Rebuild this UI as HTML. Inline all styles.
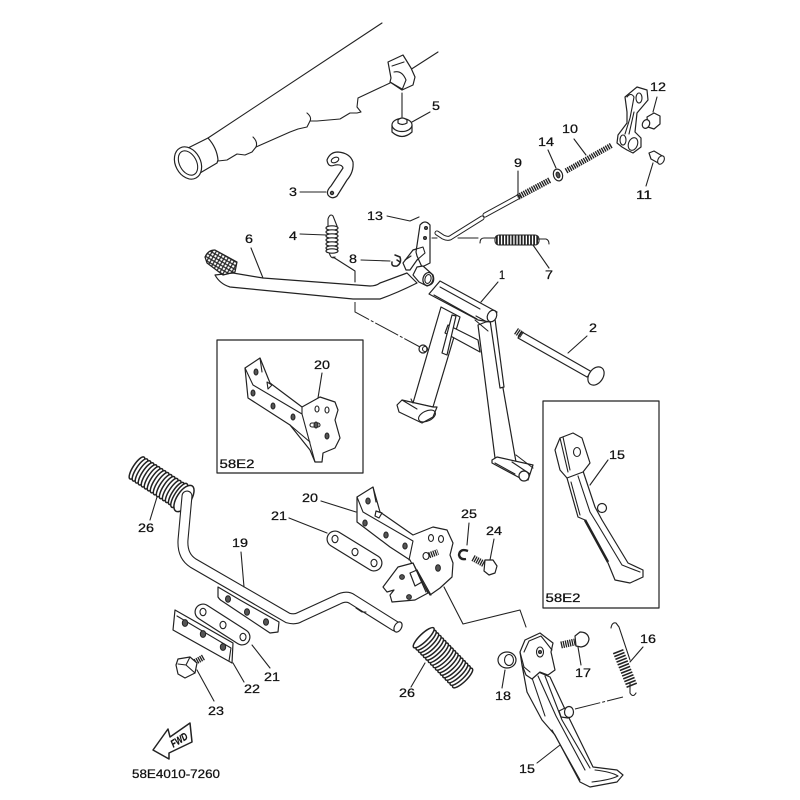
<!DOCTYPE html>
<html><head><meta charset="utf-8"><style>
html,body{margin:0;padding:0;background:#fff}
svg{display:block;filter:blur(.3px)}
.s{fill:#fff;stroke:#222;stroke-width:1.2;stroke-linejoin:round;stroke-linecap:round}
.n{fill:none;stroke:#222;stroke-width:1.1;stroke-linejoin:round;stroke-linecap:round}
.d{fill:none;stroke:#222;stroke-width:1;stroke-dasharray:26 2 3 2}
.h{fill:#555;stroke:#222;stroke-width:1}
.o{fill:#fff;stroke:#222;stroke-width:1.1}
.r{fill:#fff;stroke:#222;stroke-width:1.5}
text{font-family:"Liberation Sans",sans-serif;font-size:11.5px;fill:#111;text-anchor:middle;stroke:#111;stroke-width:.25}
</style></head><body>
<svg xmlns="http://www.w3.org/2000/svg" width="800" height="800" viewBox="0 0 800 800">
<defs><pattern id="cross" width="3.4" height="3.4" patternUnits="userSpaceOnUse" patternTransform="rotate(30)"><rect width="3.4" height="3.4" fill="#222"/><rect x=".8" y=".8" width="2.2" height="2.2" fill="#fff"/></pattern></defs>

<!-- muffler -->
<path class="n" d="M208 138L382 23"/>
<path class="s" d="M188 148L208 138Q217 148 218 160L217 163L200 173Z"/>
<ellipse class="s" cx="188" cy="163" rx="12.5" ry="17" transform="rotate(-28 188 163)"/>
<ellipse class="n" cx="188" cy="163" rx="8.5" ry="13" transform="rotate(-28 188 163)"/>
<path class="n" d="M218 161L227 160L237 154L245 155L252 152L256 147L290 132L298 129L307 127L310 121L317 121L340 119L350 113L357 113L361 112L357 107L358 98L390 83"/>
<path class="n" d="M253 137Q258 142 256 147M307 113Q312 117 310 121"/>
<path class="n" d="M410 70L438 52"/>
<path class="s" d="M388 62L403 55L411 68L415 77L413 85L402 90L390 82L391 78Z"/>
<path class="n" d="M392 66L404 62M394 72Q402 70 406 80L402 90M390 82L402 89"/>
<path class="n" d="M402 93V117"/>
<path class="s" d="M392 125V132Q402 141 412 132V125Z"/>
<ellipse class="s" cx="402" cy="125" rx="10" ry="6.5"/>
<path class="s" d="M398 123V120Q402 116 407 120V123Q402 126 398 123Z"/>
<path class="n" d="M412 122L430 112"/>

<!-- bracket 3 -->
<path class="s" d="M327 160Q330 152 338 152Q350 153 353 162Q354 172 347 180L337 196Q332 200 328 195Q326 191 331 186L343 168Q342 164 335 165Q328 168 327 160Z"/>
<ellipse class="n" cx="335" cy="160" rx="4" ry="2.5" transform="rotate(-25 335 160)"/>
<circle class="h" cx="332" cy="193" r="1.7"/>
<path class="n" d="M300 192H326"/>

<!-- rod 9,10 etc -->
<path d="M437 233L443 237Q447 239 450 238L482 218M485 215L518 197" fill="none" stroke="#222" stroke-width="5" stroke-linecap="round"/>
<path d="M437 233L443 237Q447 239 450 238L482 218M485 215L518 197" fill="none" stroke="#fff" stroke-width="3" stroke-linecap="round"/>
<line x1="518" y1="197" x2="550" y2="180" stroke="#222" stroke-width="6" stroke-dasharray="1.4 .9"/>
<line x1="566" y1="171" x2="612" y2="145" stroke="#222" stroke-width="5.5" stroke-dasharray="1.4 .9"/>
<ellipse class="s" cx="558" cy="175" rx="4.5" ry="6" transform="rotate(-20 558 175)"/>
<ellipse class="h" cx="558" cy="175" rx="1.8" ry="3" transform="rotate(-20 558 175)"/>
<path class="n" d="M548 150L556 168M574 139L586 155M518 171V197"/>

<!-- arm -->
<path class="s" d="M625 97L637 87L647 90L648 100L637 113L635 132L641 138L641 147L633 153L627 150L622 147L617 143L618 135L627 123L627 112Z"/>
<path class="n" d="M627 97Q631 92 634 97L632 108L630 118L625 134M634 112L629 134"/>
<ellipse class="n" cx="639" cy="98" rx="3" ry="5"/>
<ellipse class="n" cx="623" cy="140" rx="3" ry="5"/>
<ellipse class="o" cx="633" cy="144" rx="4.5" ry="6.5" transform="rotate(20 633 144)"/>
<path class="s" d="M647 117L654 113L660 116L660 124L654 129L648 127Z"/>
<ellipse class="s" cx="646" cy="124" rx="3.5" ry="4.5" transform="rotate(25 646 124)"/>
<path class="n" d="M657 97L653 112"/>
<path class="s" d="M649 153L654 151L664 157L660 164L651 159Z"/>
<ellipse class="o" cx="661" cy="160" rx="3" ry="4.5" transform="rotate(28 661 160)"/>
<path class="n" d="M653 163L646 186"/>

<!-- spring 7 -->
<path class="n" d="M432 238H437M458 238H478M480 243Q480 238 484 238H495M538 239H546Q549 240 549 244"/>
<rect class="n" x="495" y="235" width="44" height="10" rx="4"/>
<line x1="496" y1="240" x2="538" y2="240" stroke="#222" stroke-width="9" stroke-dasharray="1.8 1.3"/>
<path class="n" d="M533 245L549 268"/>

<!-- spring 4 -->
<path class="n" d="M328 227V219Q330 213 333 216L337 226M329 252Q331 260 335 257"/>
<g class="o" style="fill:#fff;stroke:#222;stroke-width:1.2">
<ellipse cx="332" cy="228" rx="6" ry="2.2"/><ellipse cx="332" cy="232" rx="6" ry="2.2"/><ellipse cx="332" cy="236" rx="6" ry="2.2"/><ellipse cx="332" cy="240" rx="6" ry="2.2"/><ellipse cx="332" cy="244" rx="6" ry="2.2"/><ellipse cx="332" cy="248" rx="6" ry="2.2"/><ellipse cx="332" cy="251" rx="6" ry="2.2"/>
</g>
<path class="n" d="M300 234L326 235M333 257L355 271V282"/>

<!-- lever 6 -->
<path class="s" d="M233 273L263 278L370 286Q376 286 380 283L407 273L417 283Q397 293 380 299H353L230 287Q220 284 215 275Z"/>
<path class="s" d="M205 257Q208 250 215 250L237 262L235 272L223 275L207 263Z" style="fill:url(#cross)"/>
<path class="s" d="M403 263L413 250L423 247L425 253L417 260L410 270L406 270Z"/>
<path class="s" d="M420 225Q425 219 430 225V263L422 267L417 256L416 252Z"/>
<circle class="h" cx="426" cy="228" r="1.5"/>
<circle class="h" cx="425" cy="238" r="1.5"/>
<path class="n" d="M413 250L423 247L425 253L417 260M405 260L411 256"/>
<path class="s" d="M417 267L423 266L433 275Q436 284 427 286L419 282L413 275Z"/>
<ellipse class="s" cx="428" cy="279" rx="5" ry="6.5" transform="rotate(15 428 279)"/>
<ellipse class="n" cx="428" cy="279" rx="3" ry="4.5" transform="rotate(15 428 279)"/>
<path class="n" d="M387 216L410 221L419 217M361 260L390 261"/>
<path class="n" d="M395 255L400 257Q402 263 397 266Q391 267 392 262M400 262L397 260" style="stroke-width:1.5"/>
<path class="n" d="M251 248L263 278"/>
<path class="d" d="M355 302V312L420 347"/>
<circle class="s" cx="423" cy="349" r="4"/>
<circle class="n" cx="425" cy="349" r="2.5"/>

<!-- stand 1 -->
<path class="s" d="M441 307L413 403L433 407L460 317Z"/>
<path class="s" d="M448 325L478 340L480 352L445 333Z"/>
<path class="s" d="M452 315L456 316L447 355L442 353Z"/>
<path class="s" d="M478 325L495 458L516 462L503 388L491 320Z"/>
<path class="s" d="M490 320L495 319L504 387L500 388Z"/>
<path class="s" d="M429 294L440 281L497 312L490 322L478 320Z"/>
<path class="n" d="M434 295L477 319M440 287L480 309M476 316L487 322M475 320L488 331"/>
<ellipse class="s" cx="492" cy="316" rx="4.5" ry="6" transform="rotate(25 492 316)"/>
<path class="s" d="M397 405L402 400L433 407L437 407L433 417L422 423L399 412Z"/>
<ellipse class="n" cx="427" cy="416" rx="9" ry="5" transform="rotate(-25 427 416)"/>
<path class="n" d="M402 400L417 409M413 403L411 399"/>
<path class="s" d="M492 460L497 457L533 465L528 480L520 478L492 463Z"/>
<path class="n" d="M516 455L533 468M512 462L530 474M495 463L515 474"/>
<circle class="s" cx="524" cy="476" r="5"/>
<path class="n" d="M498 282L481 302"/>

<!-- pin 2 -->
<path class="s" d="M522 332L592 372L587 377L518 338Z"/>
<line x1="516" y1="331" x2="522" y2="335" stroke="#222" stroke-width="7" stroke-dasharray="1.3 .8"/>
<ellipse class="s" cx="596" cy="376" rx="7" ry="10" transform="rotate(35 596 376)"/>
<path class="n" d="M587 336L568 353"/>

<!-- box top -->
<rect class="n" x="217" y="340" width="146" height="133" style="stroke-width:1.2"/>
<path class="s" d="M245 368L260 358L270 383L302 407L320 397L335 402L338 410L335 420L340 438L335 448L323 453L322 462L315 462L310 450L290 425L248 398Z"/>
<path class="n" d="M245 368L253 385L302 414M260 358L262 372M302 407V414L315 462M290 425L310 442"/>
<path class="n" d="M267 382L272 385L268 389Z"/>
<ellipse class="h" cx="256" cy="372" rx="2" ry="3"/>
<ellipse class="h" cx="253" cy="393" rx="2" ry="3"/>
<ellipse class="h" cx="273" cy="406" rx="2" ry="3"/>
<ellipse class="h" cx="293" cy="417" rx="2" ry="3"/>
<ellipse class="o" cx="317" cy="409" rx="2" ry="3"/>
<ellipse class="o" cx="327" cy="410" rx="2" ry="3"/>
<rect class="o" x="310" y="423" width="10" height="4" rx="2"/>
<ellipse class="h" cx="316" cy="425" rx="2" ry="3"/>
<ellipse class="h" cx="327" cy="436" rx="2" ry="3"/>
<path class="n" d="M322 373L318 398"/>

<!-- box right -->
<rect class="n" x="543" y="401" width="116" height="207" style="stroke-width:1.2"/>
<path class="s" d="M582 468L595 507L602 520L628 563L643 570L643 577L630 583L615 580L608 563L585 520L578 517L567 478Z"/>
<path class="n" d="M578 476L590 512L598 525L622 565Q632 569 640 572M571 482L580 515"/>
<path d="M585 520L608 562" stroke="#222" stroke-width="2.5"/>
<path class="s" d="M555 450L560 438L573 433L582 438L590 463L583 472L567 478L560 470Z"/>
<path class="n" d="M560 438L568 472M563 437L570 470"/>
<ellipse class="o" cx="577" cy="452" rx="3.5" ry="4.5"/>
<circle class="s" cx="602" cy="508" r="4.5"/>
<path class="n" d="M608 460L590 485"/>

<!-- grip 26 upper -->
<g transform="translate(137 468) rotate(33)">
<ellipse class="r" cx="0" cy="0" rx="4" ry="13"/><ellipse class="r" cx="3.6" cy="0" rx="4" ry="13"/><ellipse class="r" cx="7.2" cy="0" rx="4" ry="13"/><ellipse class="r" cx="10.8" cy="0" rx="4" ry="13"/><ellipse class="r" cx="14.4" cy="0" rx="4" ry="13"/><ellipse class="r" cx="18" cy="0" rx="4" ry="13"/><ellipse class="r" cx="21.6" cy="0" rx="4" ry="13"/><ellipse class="r" cx="25.2" cy="0" rx="4" ry="13"/><ellipse class="r" cx="28.8" cy="0" rx="4" ry="13"/><ellipse class="r" cx="32.4" cy="0" rx="4" ry="13"/><ellipse class="r" cx="36" cy="0" rx="4" ry="13"/><ellipse class="r" cx="39.6" cy="0" rx="4" ry="13"/><ellipse class="r" cx="43.2" cy="0" rx="4" ry="13"/><ellipse class="r" cx="46.8" cy="0" rx="4" ry="13"/><ellipse class="r" cx="50.4" cy="0" rx="4.5" ry="14"/>
<ellipse class="r" cx="56" cy="0" rx="7" ry="15"/>
</g>
<!-- tube 19 -->
<path d="M187 496L183 540Q182 556 193 563L288 618Q295 620 300 617L337 600Q346 595 352 599L395 626" fill="none" stroke="#222" stroke-width="11" stroke-linecap="round"/>
<path d="M187 496L183 540Q182 556 193 563L288 618Q295 620 300 617L337 600Q346 595 352 599L395 626" fill="none" stroke="#fff" stroke-width="8.8" stroke-linecap="round"/>
<ellipse class="s" cx="398" cy="627" rx="3.5" ry="5.5" transform="rotate(30 398 627)"/>
<path class="n" d="M356 608L362 612L366 612"/>
<path class="n" d="M157 497L150 520"/>
<path class="n" d="M241 552L244 587"/>

<!-- plate 19 -->
<path class="s" d="M218 587V597Q220 600 222 601L270 633L278 632L279 622L240 600Z"/>
<ellipse class="h" cx="228" cy="599" rx="2.5" ry="3.3"/>
<ellipse class="h" cx="247" cy="612" rx="2.5" ry="3.3"/>
<ellipse class="h" cx="266" cy="622" rx="2.5" ry="3.3"/>

<!-- plate 21 lower -->
<path d="M203 612L242 637" stroke="#222" stroke-width="17" stroke-linecap="round"/>
<path d="M203 612L242 637" stroke="#fff" stroke-width="14.6" stroke-linecap="round"/>
<ellipse class="o" cx="203" cy="612" rx="3" ry="3.7"/>
<ellipse class="o" cx="223" cy="625" rx="3" ry="3.7"/>
<ellipse class="o" cx="243" cy="637" rx="3" ry="3.7"/>

<!-- plate 22 -->
<path class="s" d="M175 610L233 643L232 663L173 630Z"/>
<path class="n" d="M177 616L231 648L229 661" />
<ellipse class="h" cx="185" cy="623" rx="2.7" ry="3.4"/>
<ellipse class="h" cx="203" cy="634" rx="2.7" ry="3.4"/>
<ellipse class="h" cx="223" cy="647" rx="2.7" ry="3.4"/>
<path class="n" d="M252 645L270 668M233 663L244 682M197 670L214 701"/>
<line x1="195" y1="662" x2="204" y2="657" stroke="#222" stroke-width="6" stroke-dasharray="1.3 .8"/>
<path class="s" d="M178 659L190 657L197 663L195 673L185 678L178 674L176 665Z"/>
<path class="n" d="M190 657L186 665L195 673M186 665L178 664"/>

<!-- FWD -->
<polygon class="s" points="153,750 168,729 170,737 190,723 192,742 169,753 169,759" style="stroke-width:1.5"/>
<text transform="translate(181,743) rotate(-32)" textLength="18" lengthAdjust="spacingAndGlyphs" style="font-size:10.5px;font-weight:bold;font-style:italic">FWD</text>

<!-- plate 21 upper -->
<path d="M335 539L374 563" stroke="#222" stroke-width="17" stroke-linecap="round"/>
<path d="M335 539L374 563" stroke="#fff" stroke-width="14.6" stroke-linecap="round"/>
<ellipse class="o" cx="335" cy="539" rx="3" ry="3.7"/>
<ellipse class="o" cx="355" cy="552" rx="3" ry="3.7"/>
<ellipse class="o" cx="374" cy="563" rx="3" ry="3.7"/>

<!-- bracket 20 main -->
<path class="s" d="M357 497L373 487L380 512L413 535L433 527L447 530L453 543L450 555L453 563L452 577L440 588L430 595L415 570L410 560L390 547L357 522Z"/>
<path class="n" d="M357 497L363 512L413 541L409 560M373 487L376 502"/>
<path class="s" d="M376 511L382 513L379 518L375 516Z"/>
<ellipse class="h" cx="368" cy="501" rx="2.2" ry="3"/>
<ellipse class="h" cx="365" cy="523" rx="2.2" ry="3"/>
<ellipse class="h" cx="386" cy="535" rx="2.2" ry="3"/>
<ellipse class="h" cx="405" cy="546" rx="2.2" ry="3"/>
<ellipse class="o" cx="431" cy="538" rx="2.5" ry="3.4"/>
<ellipse class="o" cx="441" cy="539" rx="2.5" ry="3.4"/>
<ellipse class="h" cx="438" cy="568" rx="2.4" ry="3.2"/>
<line x1="427" y1="556" x2="438" y2="552" stroke="#222" stroke-width="6" stroke-dasharray="1.3 .9"/>
<ellipse class="o" cx="426" cy="556" rx="3" ry="3.5"/>
<path class="s" d="M383 587L398 567L413 563L428 593L415 600L392 602L390 595L394 590L387 592Z"/>
<path class="s" d="M410 573L417 570L422 582L415 586Z"/>
<path class="n" d="M417 570L431 595M413 563L426 592"/>
<circle class="h" cx="402" cy="577" r="2.4"/>
<circle class="h" cx="409" cy="597" r="2.4"/>
<path class="n" d="M289 518L327 533M321 501L356 512"/>

<!-- 24 25 -->
<path class="n" d="M469 523L467 545M494 539L490 560"/>
<path d="M468 551Q460 548 459 555Q460 560 466 559" fill="none" stroke="#222" stroke-width="2.4"/>
<line x1="473" y1="558" x2="484" y2="564" stroke="#222" stroke-width="6.5" stroke-dasharray="1.3 .9"/>
<path class="s" d="M485 560L493 560L497 566L495 573L489 575L484 571Z"/>
<path class="n" d="M444 587L463 624L520 610L526 627"/>

<!-- grip 26 lower -->
<g transform="translate(423 637) rotate(46)">
<ellipse class="r" cx="57" cy="0" rx="4" ry="13.5"/><ellipse class="r" cx="53.5" cy="0" rx="4" ry="13.5"/><ellipse class="r" cx="50" cy="0" rx="4" ry="13.5"/><ellipse class="r" cx="46.5" cy="0" rx="4" ry="13.5"/><ellipse class="r" cx="43" cy="0" rx="4" ry="13.5"/><ellipse class="r" cx="39.5" cy="0" rx="4" ry="13.5"/><ellipse class="r" cx="36" cy="0" rx="4" ry="13.5"/><ellipse class="r" cx="32.5" cy="0" rx="4" ry="13.5"/><ellipse class="r" cx="29" cy="0" rx="4" ry="13.5"/><ellipse class="r" cx="25.5" cy="0" rx="4" ry="13.5"/><ellipse class="r" cx="22" cy="0" rx="4" ry="13.5"/><ellipse class="r" cx="18.5" cy="0" rx="4" ry="13.5"/><ellipse class="r" cx="15" cy="0" rx="4" ry="13.5"/><ellipse class="r" cx="11.5" cy="0" rx="4" ry="13.5"/><ellipse class="r" cx="8" cy="0" rx="4" ry="13.5"/><ellipse class="r" cx="4.5" cy="0" rx="4" ry="13.5"/><ellipse class="r" cx="1" cy="0" rx="4" ry="14"/>
</g>
<path class="n" d="M425 663L411 687"/>

<!-- kickstand 15 -->
<path class="s" d="M550 677L570 720L593 767L617 770L623 775L617 782L590 787L580 782L555 735L542 720L527 692L522 665Z"/>
<path class="n" d="M530 672L545 716M538 676L556 716L585 770M545 676L562 720L590 768M552 730L580 780M595 770Q612 772 618 776Q610 780 592 782"/>
<path class="s" d="M520 652L525 640L540 633L553 643L551 652L555 670L548 675L540 672L532 679L526 675L522 665Z"/>
<path class="n" d="M524 652L529 641L541 636L552 650M520 652L524 667L530 672"/>
<ellipse class="o" cx="540" cy="652" rx="3.5" ry="5"/>
<circle class="h" cx="540" cy="652" r="1.5"/>
<path class="s" d="M559 711L565 708L568 718L561 717Z"/>
<ellipse class="s" cx="569" cy="712" rx="4.5" ry="5.5"/>
<path class="n" d="M537 763L560 745"/>

<!-- 18 -->
<ellipse class="s" cx="507" cy="660" rx="9" ry="8"/>
<ellipse class="o" cx="509" cy="660" rx="4.5" ry="5.5"/>
<path class="n" d="M505 670L502 688"/>

<!-- 17 -->
<line x1="561" y1="645" x2="575" y2="642" stroke="#222" stroke-width="7" stroke-dasharray="1.3 .9"/>
<path class="s" d="M575 636L580 632Q588 632 589 639Q588 646 581 647L576 646Z"/>
<path class="n" d="M578 647L581 665"/>

<!-- 16 -->
<path class="n" d="M611 628Q612 622 616 623L619 627L630 660M630 683V693Q633 698 636 693"/>
<line x1="618" y1="651" x2="632" y2="686" stroke="#222" stroke-width="11" stroke-dasharray="1.6 1.4"/>
<path class="n" d="M643 647L630 662"/>
<path class="d" d="M575 709L623 697"/>

<!-- labels -->
<text x="436" y="110" textLength="8" lengthAdjust="spacingAndGlyphs">5</text>
<text x="293" y="196" textLength="8" lengthAdjust="spacingAndGlyphs">3</text>
<text x="658" y="91" textLength="16" lengthAdjust="spacingAndGlyphs">12</text>
<text x="570" y="133" textLength="16" lengthAdjust="spacingAndGlyphs">10</text>
<text x="546" y="146" textLength="16" lengthAdjust="spacingAndGlyphs">14</text>
<text x="518" y="167" textLength="8" lengthAdjust="spacingAndGlyphs">9</text>
<text x="644" y="199" textLength="16" lengthAdjust="spacingAndGlyphs">11</text>
<text x="549" y="279" textLength="8" lengthAdjust="spacingAndGlyphs">7</text>
<text x="502" y="279" textLength="6" lengthAdjust="spacingAndGlyphs">1</text>
<text x="593" y="332" textLength="8" lengthAdjust="spacingAndGlyphs">2</text>
<text x="375" y="220" textLength="16" lengthAdjust="spacingAndGlyphs">13</text>
<text x="293" y="240" textLength="8" lengthAdjust="spacingAndGlyphs">4</text>
<text x="353" y="263" textLength="8" lengthAdjust="spacingAndGlyphs">8</text>
<text x="249" y="243" textLength="8" lengthAdjust="spacingAndGlyphs">6</text>
<text x="322" y="369" textLength="16" lengthAdjust="spacingAndGlyphs">20</text>
<text x="237" y="468" textLength="35" lengthAdjust="spacingAndGlyphs">58E2</text>
<text x="563" y="602" textLength="35" lengthAdjust="spacingAndGlyphs">58E2</text>
<text x="617" y="459" textLength="16" lengthAdjust="spacingAndGlyphs">15</text>
<text x="146" y="532" textLength="16" lengthAdjust="spacingAndGlyphs">26</text>
<text x="240" y="547" textLength="16" lengthAdjust="spacingAndGlyphs">19</text>
<text x="310" y="502" textLength="16" lengthAdjust="spacingAndGlyphs">20</text>
<text x="279" y="520" textLength="16" lengthAdjust="spacingAndGlyphs">21</text>
<text x="469" y="518" textLength="16" lengthAdjust="spacingAndGlyphs">25</text>
<text x="494" y="535" textLength="16" lengthAdjust="spacingAndGlyphs">24</text>
<text x="272" y="681" textLength="16" lengthAdjust="spacingAndGlyphs">21</text>
<text x="252" y="693" textLength="16" lengthAdjust="spacingAndGlyphs">22</text>
<text x="216" y="715" textLength="16" lengthAdjust="spacingAndGlyphs">23</text>
<text x="407" y="697" textLength="16" lengthAdjust="spacingAndGlyphs">26</text>
<text x="503" y="700" textLength="16" lengthAdjust="spacingAndGlyphs">18</text>
<text x="583" y="677" textLength="16" lengthAdjust="spacingAndGlyphs">17</text>
<text x="648" y="643" textLength="16" lengthAdjust="spacingAndGlyphs">16</text>
<text x="527" y="773" textLength="16" lengthAdjust="spacingAndGlyphs">15</text>
<text x="176" y="778" textLength="88" lengthAdjust="spacingAndGlyphs">58E4010-7260</text>
</svg>
</body></html>
